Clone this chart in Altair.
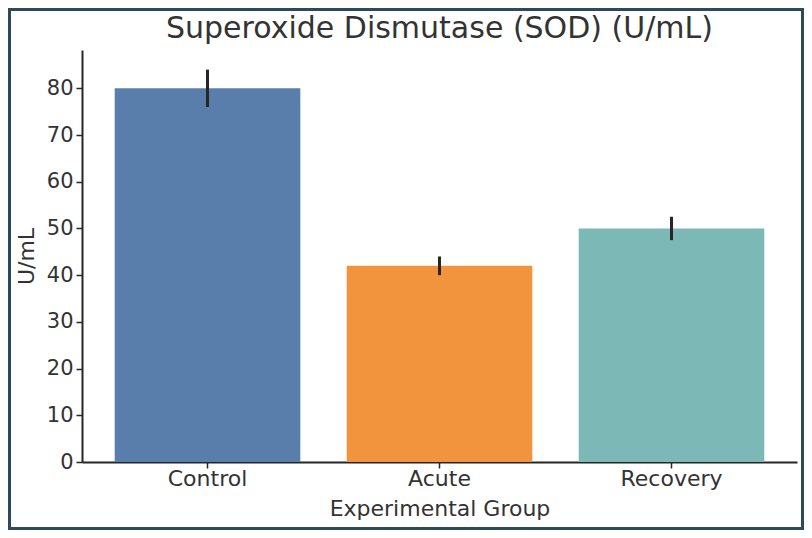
import altair as alt
import pandas as pd

groups = ["Control", "Acute", "Recovery"]
means = [80, 42, 50]
errors = [4, 2, 2.5]
colors = ["#5a7eac", "#f2933d", "#7cb8b5"]
title_text = ["Superoxide Dismutase (SOD) (U/mL)"]

df = pd.DataFrame({
    "group": groups,
    "mean": means,
    "lo": [m - e for m, e in zip(means, errors)],
    "hi": [m + e for m, e in zip(means, errors)],
})

W, H = 715, 412
PL, PT, PR, PB = 74, 42, 7, 68

xenc = alt.X("group:N", sort=groups, title="Experimental Group",
             scale=alt.Scale(paddingInner=0.2, paddingOuter=0.141),
             axis=alt.Axis(labelAngle=0, labelFontSize=22, titleFontSize=22,
                           labelPadding=0, titlePadding=9, tickSize=6,
                           domainWidth=2, tickWidth=1.5))

bars = alt.Chart(df).mark_bar().encode(
    x=xenc,
    y=alt.Y("mean:Q", title="U/mL",
            scale=alt.Scale(domain=[0, 88.2], nice=False),
            axis=alt.Axis(values=list(range(0, 81, 10)), labelFontSize=21,
                          titleFontSize=22, tickSize=6, labelPadding=3,
                          titlePadding=8, domainWidth=2, tickWidth=1.5,
                          grid=False)),
    color=alt.Color("group:N", scale=alt.Scale(domain=groups, range=colors), legend=None),
)

err = alt.Chart(df).mark_rule(color="#262626", strokeWidth=3).encode(
    x=alt.X("group:N", sort=groups),
    y="lo:Q",
    y2="hi:Q",
)

title = alt.Chart(pd.DataFrame({"t": title_text})).mark_text(
    fontSize=30, font="DejaVu Sans", color="#333333", align="center",
    baseline="alphabetic"
).encode(
    text="t:N", x=alt.value(W / 2), y=alt.value(-12),
)

frame = alt.Chart(pd.DataFrame({"a": [0]})).mark_rect(
    fill=None, stroke="#2c4a58", strokeWidth=3
).encode(
    x=alt.value(-PL + 1.5), x2=alt.value(W + PR - 1.5),
    y=alt.value(-PT + 1.5), y2=alt.value(H + PB - 1.5),
)

chart = alt.layer(bars, err, title, frame).properties(
    width=W, height=H,
    autosize=alt.AutoSizeParams(type="none"),
    padding={"left": PL, "top": PT, "right": PR, "bottom": PB},
).configure(
    font="DejaVu Sans",
).configure_axis(
    labelColor="#333333", titleColor="#333333", domainColor="#262626",
    tickColor="#262626", labelFont="DejaVu Sans", titleFont="DejaVu Sans",
    titleFontWeight="normal",
).configure_view(stroke=None)

chart.save("out.html", embed_options={"renderer": "svg", "actions": False})
